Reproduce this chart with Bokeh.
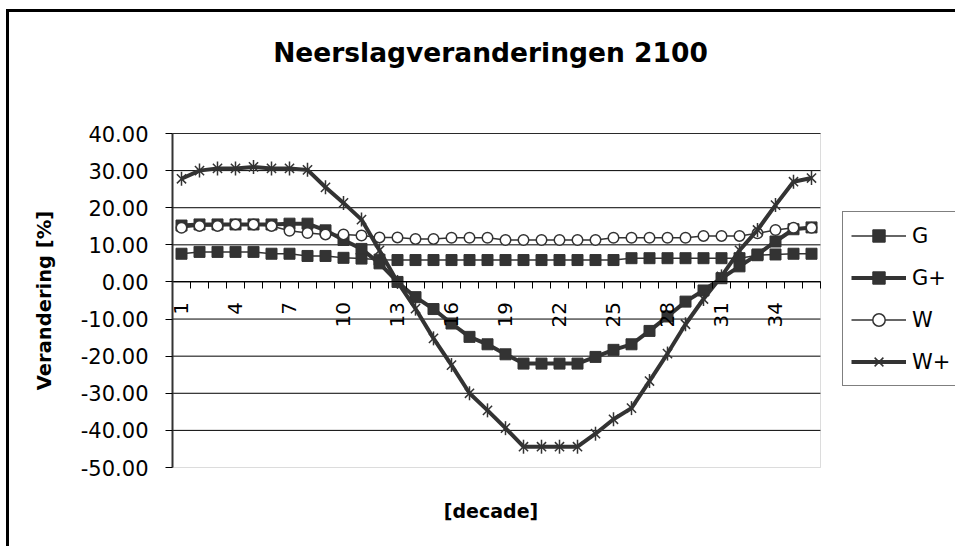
import math
from bokeh.plotting import figure
from bokeh.models import (ColumnDataSource, FixedTicker, PrintfTickFormatter, Range1d,
                          Legend, LegendItem, Label, BoxAnnotation)
from bokeh.embed import file_html
from bokeh.resources import INLINE

# ---- data -------------------------------------------------------------
decades = list(range(1, 37))
G = [7.6, 8.1, 8.1, 8.1, 8.1, 7.6, 7.6, 7.0, 7.0, 6.5, 6.3, 6.0,
     5.9, 5.9, 5.9, 5.9, 5.9, 5.9, 5.9, 5.9, 5.9, 5.9, 5.9, 5.9,
     5.9, 6.4, 6.4, 6.4, 6.4, 6.4, 6.4, 6.4, 7.2, 7.4, 7.6, 7.6]
G_plus = [15.2, 15.5, 15.5, 15.5, 15.5, 15.5, 15.7, 15.7, 13.9, 11.3, 8.9, 5.0,
          0.0, -4.1, -7.3, -11.2, -14.8, -16.8, -19.5, -22.0, -22.0, -22.0, -22.0, -20.2,
          -18.3, -16.8, -13.2, -9.3, -5.3, -2.3, 1.0, 4.2, 7.4, 10.9, 14.2, 14.7]
W = [14.6, 15.1, 15.1, 15.5, 15.5, 15.1, 13.8, 13.2, 12.8, 12.8, 12.5, 12.0,
     12.0, 11.6, 11.6, 11.9, 11.9, 11.9, 11.3, 11.3, 11.3, 11.3, 11.3, 11.3,
     11.9, 11.9, 11.9, 11.9, 11.9, 12.4, 12.4, 12.4, 13.1, 14.0, 14.6, 14.6]
W_plus = [27.8, 30.0, 30.6, 30.6, 31.0, 30.6, 30.6, 30.2, 25.5, 21.3, 16.8, 8.5,
          0.0, -7.2, -15.2, -22.4, -30.0, -34.6, -39.4, -44.4, -44.4, -44.4, -44.4, -40.9,
          -37.0, -34.0, -26.7, -19.3, -11.4, -4.6, 1.5, 8.5, 14.0, 20.7, 27.0, 28.0]
x_tick_labels = [1, 4, 7, 10, 13, 16, 19, 22, 25, 28, 31, 34]
y_ticks = [-50, -40, -30, -20, -10, 0, 10, 20, 30, 40]
grid_levels = [-40, -30, -20, -10, 0, 10, 20, 30, 40]
series_names = ["G", "G+", "W", "W+"]
title_text = "Neerslagveranderingen 2100"
x_title = "[decade]"
y_title = "Verandering [%]"

# ---- layout (pixels) ------------------------------------------------------
W_PX, H_PX = 955, 546
PLOT_L, PLOT_R, PLOT_T, PLOT_B = 172, 820, 133, 467
X_MIN, X_MAX = 0.5, 36.5
Y_MIN, Y_MAX = -50, 40
ux = (X_MAX - X_MIN) / (PLOT_R - PLOT_L)      # data units per pixel
uy = (Y_MAX - Y_MIN) / (PLOT_B - PLOT_T)
x_range = Range1d(X_MIN - PLOT_L * ux, X_MAX + (W_PX - PLOT_R) * ux)
y_range = Range1d(Y_MIN - (H_PX - PLOT_B) * uy, Y_MAX + PLOT_T * uy)

FONT = "DejaVu Sans"
DARK = "#333333"

src = ColumnDataSource(dict(x=decades, G=G, Gp=G_plus, W=W, Wp=W_plus))
grid_src = ColumnDataSource(dict(y=grid_levels,
                                 x0=[X_MIN] * len(grid_levels),
                                 x1=[X_MAX] * len(grid_levels)))

frame_css = ("linear-gradient(#000,#000) 6px 9px / 3px 100% no-repeat, "
             "linear-gradient(#000,#000) 6px 9px / 100% 3px no-repeat, white")

p = figure(width=W_PX, height=H_PX, x_range=x_range, y_range=y_range,
           output_backend="svg", toolbar_location=None,
           background_fill_color=None, border_fill_color=None,
           outline_line_color=None)
p.min_border = 0
p.title.visible = False
p.styles = {"background": frame_css}
p.xgrid.visible = False
p.ygrid.visible = False

# ---- plot area ------------------------------------------------------------
p.add_layout(BoxAnnotation(left=X_MIN, right=X_MAX, bottom=Y_MIN, top=Y_MAX,
                           fill_color=None, line_color="#8c8c8c", line_width=1,
                           level="underlay"))
p.segment(x0="x0", x1="x1", y0="y", y1="y", source=grid_src,
          line_color="black", line_width=1, level="underlay")

# ---- x axis (crossing at 0) ------------------------------------------
xa = p.xaxis[0]
xa.fixed_location = 0
xa.bounds = (X_MIN, X_MAX)
xa.ticker = FixedTicker(ticks=x_tick_labels,
                        minor_ticks=[d - 0.5 for d in decades] + [X_MAX])
xa.major_tick_out = 0
xa.major_tick_in = 0
xa.minor_tick_out = 7
xa.minor_tick_in = 0
xa.minor_tick_line_color = "black"
xa.axis_line_color = "black"
xa.axis_line_width = 1
xa.major_label_orientation = math.pi / 2
xa.major_label_standoff = 13
xa.major_label_text_font = FONT
xa.major_label_text_font_size = "20px"
xa.major_label_text_color = "black"

# ---- y axis -------------------------------------------------------------
ya = p.yaxis[0]
ya.fixed_location = X_MIN
ya.bounds = (Y_MIN, Y_MAX)
ya.ticker = FixedTicker(ticks=y_ticks)
ya.formatter = PrintfTickFormatter(format="%.2f")
ya.major_tick_out = 7
ya.major_tick_in = 0
ya.minor_tick_line_color = None
ya.major_tick_line_color = "black"
ya.axis_line_color = DARK
ya.axis_line_width = 2
ya.major_label_standoff = 17
ya.major_label_text_font = FONT
ya.major_label_text_font_size = "21px"
ya.major_label_text_color = "black"
ya.axis_label = y_title
ya.axis_label_text_font = FONT
ya.axis_label_text_font_size = "19.5px"
ya.axis_label_text_font_style = "bold"
ya.axis_label_text_color = "black"
ya.axis_label_standoff = 22

# ---- series -------------------------------------------------------------
lG = p.line("x", "G", source=src, line_color=DARK, line_width=1.5)
sG = p.scatter("x", "G", source=src, marker="square", size=11,
               fill_color=DARK, line_color=DARK)
lGp = p.line("x", "Gp", source=src, line_color=DARK, line_width=4)
sGp = p.scatter("x", "Gp", source=src, marker="square", size=11,
                fill_color=DARK, line_color=DARK)
lW = p.line("x", "W", source=src, line_color=DARK, line_width=1.5)
sW = p.scatter("x", "W", source=src, marker="circle", size=10.5,
               fill_color="white", line_color=DARK, line_width=1.5)
lWp = p.line("x", "Wp", source=src, line_color=DARK, line_width=4)
sWp1 = p.scatter("x", "Wp", source=src, marker="x", size=13,
                 line_color=DARK, line_width=1.5)
sWp2 = p.scatter("x", "Wp", source=src, marker="dash", size=14, angle=math.pi / 2,
                 line_color=DARK, line_width=1.5)

legend = Legend(items=[
    LegendItem(label=series_names[0], renderers=[lG, sG]),
    LegendItem(label=series_names[1], renderers=[lGp, sGp]),
    LegendItem(label=series_names[2], renderers=[lW, sW]),
    LegendItem(label=series_names[3], renderers=[lWp, sWp1, sWp2]),
], location=(842, H_PX - 386), orientation="vertical",
    border_line_color="black", border_line_width=1,
    background_fill_color="white", background_fill_alpha=1,
    padding=8, spacing=11, margin=0,
    glyph_width=55, glyph_height=31, label_height=31, label_standoff=6,
    label_text_font=FONT, label_text_font_size="21px", label_text_color="black")
p.add_layout(legend)

# ---- titles ---------------------------------------------------------------
p.add_layout(Label(x=490, y=H_PX - 52, x_units="screen", y_units="screen",
                   text=title_text, text_align="center", text_baseline="middle",
                   text_font=FONT, text_font_size="26.5px", text_font_style="bold",
                   text_color="black"))
p.add_layout(Label(x=490.5, y=H_PX - 510, x_units="screen", y_units="screen",
                   text=x_title, text_align="center", text_baseline="middle",
                   text_font=FONT, text_font_size="19px", text_font_style="bold",
                   text_color="black"))

open("out.html", "w").write(file_html(p, INLINE))
